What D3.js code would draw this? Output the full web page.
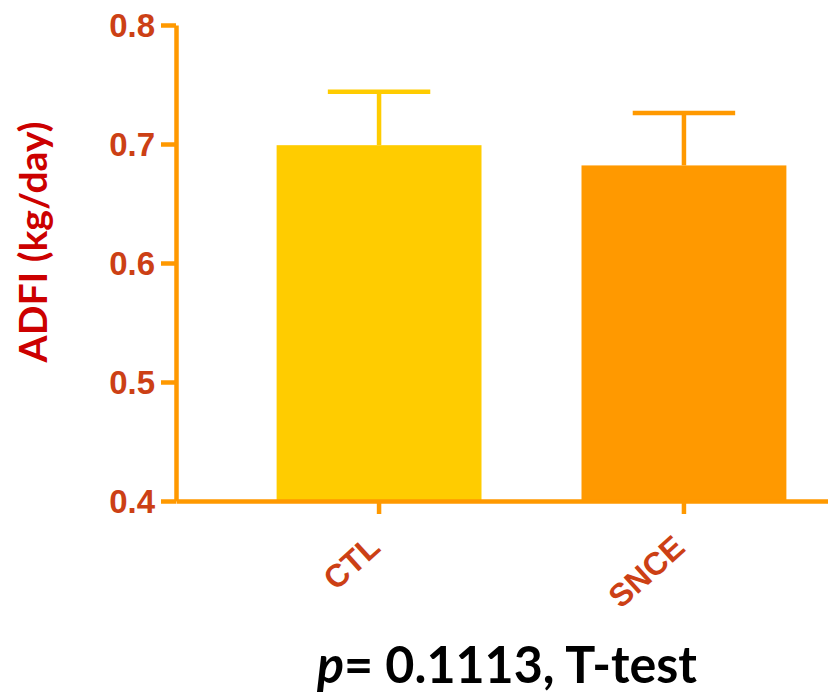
<!DOCTYPE html>
<html>
<head>
<meta charset="utf-8">
<script src="https://cdn.jsdelivr.net/npm/d3@7"></script>
<style>
  body { margin: 0; background: #fff; }
</style>
</head>
<body>
<div id="chart"></div>
<script>
const groups = ['CTL', 'SNCE'];
const means = [0.699, 0.682];
const errors = [0.045, 0.044];
const barColors = ['#ffcc00', '#ff9900'];
const yTicks = [0.4, 0.5, 0.6, 0.7, 0.8];

const width = 828;
const height = 695;
const axisColor = '#ff9900';
const labelColor = '#cc4015';
const tickFont = '"Liberation Sans", Arial, sans-serif';

const svg = d3.select('#chart')
	.append('svg')
	.attr('width', width)
	.attr('height', height);

const yScale = d3.scaleLinear()
	.domain([0.4, 0.8])
	.range([501, 25]);

const xScale = d3.scaleBand()
	.domain(groups)
	.range([176, 887])
	.paddingInner(0.328)
	.paddingOuter(0.33);

const data = groups.map((g, i) => ({ group: g, mean: means[i], err: errors[i], color: barColors[i] }));

// bars
svg.selectAll('rect.bar')
	.data(data)
	.enter()
	.append('rect')
	.attr('class', 'bar')
	.attr('x', d => xScale(d.group))
	.attr('y', d => yScale(d.mean))
	.attr('width', xScale.bandwidth())
	.attr('height', d => yScale(0.4) - yScale(d.mean))
	.attr('fill', d => d.color);

// error bars (upper only)
const capHalf = xScale.bandwidth() / 4;
const eb = svg.selectAll('g.err')
	.data(data)
	.enter()
	.append('g')
	.attr('class', 'err')
	.attr('stroke', d => d.color)
	.attr('stroke-width', 4.5);

eb.append('line')
	.attr('x1', d => xScale(d.group) + xScale.bandwidth() / 2)
	.attr('x2', d => xScale(d.group) + xScale.bandwidth() / 2)
	.attr('y1', d => yScale(d.mean))
	.attr('y2', d => yScale(d.mean + d.err));

eb.append('line')
	.attr('x1', d => xScale(d.group) + xScale.bandwidth() / 2 - capHalf)
	.attr('x2', d => xScale(d.group) + xScale.bandwidth() / 2 + capHalf)
	.attr('y1', d => yScale(d.mean + d.err))
	.attr('y2', d => yScale(d.mean + d.err));

// y axis
const yAxis = svg.append('g')
	.attr('transform', 'translate(176,0)')
	.call(d3.axisLeft(yScale)
		.tickValues(yTicks)
		.tickFormat(d3.format('.1f'))
		.tickSize(15)
		.tickSizeOuter(0)
		.tickPadding(6));

// x axis
const xAxis = svg.append('g')
	.attr('transform', 'translate(0,501)')
	.call(d3.axisBottom(xScale)
		.tickSize(13)
		.tickSizeOuter(0)
		.tickPadding(0));

[yAxis, xAxis].forEach(ax => {
	ax.attr('font-family', tickFont);
	ax.select('.domain').attr('stroke', axisColor).attr('stroke-width', 4.5);
	ax.selectAll('.tick line').attr('stroke', axisColor).attr('stroke-width', 4.5);
	ax.selectAll('.tick text')
		.attr('fill', labelColor)
		.style('font-family', tickFont)
		.style('font-weight', 'bold')
		.style('font-size', '33px');
});

yAxis.selectAll('.tick text').attr('dy', '0.36em');

xAxis.selectAll('.tick text')
	.style('font-size', '32px')
	.attr('text-anchor', 'end')
	.attr('x', 0)
	.attr('y', 0)
	.attr('dy', 0)
	.attr('transform', 'translate(3,49) rotate(-42)');

// y label
svg.append('text')
	.attr('transform', 'translate(47,242) rotate(-90)')
	.attr('text-anchor', 'middle')
	.attr('fill', '#cc0000')
	.style('font-family', 'Lato, "Open Sans", sans-serif')
	.style('font-weight', 'bold')
	.style('font-size', '38px')
	.attr('textLength', 241)
	.attr('lengthAdjust', 'spacingAndGlyphs')
	.text('ADFI (kg/day)');

// p-value caption
const cap = svg.append('text')
	.attr('x', 507)
	.attr('y', 683)
	.attr('text-anchor', 'middle')
	.attr('fill', '#000')
	.style('font-family', 'Lato, "Open Sans", sans-serif')
	.style('font-weight', 'bold')
	.style('font-size', '51px')
	.attr('textLength', 380)
	.attr('lengthAdjust', 'spacingAndGlyphs');
cap.append('tspan').style('font-style', 'italic').text('p');
cap.append('tspan').text('= 0.1113, T-test');
</script>
</body>
</html>
